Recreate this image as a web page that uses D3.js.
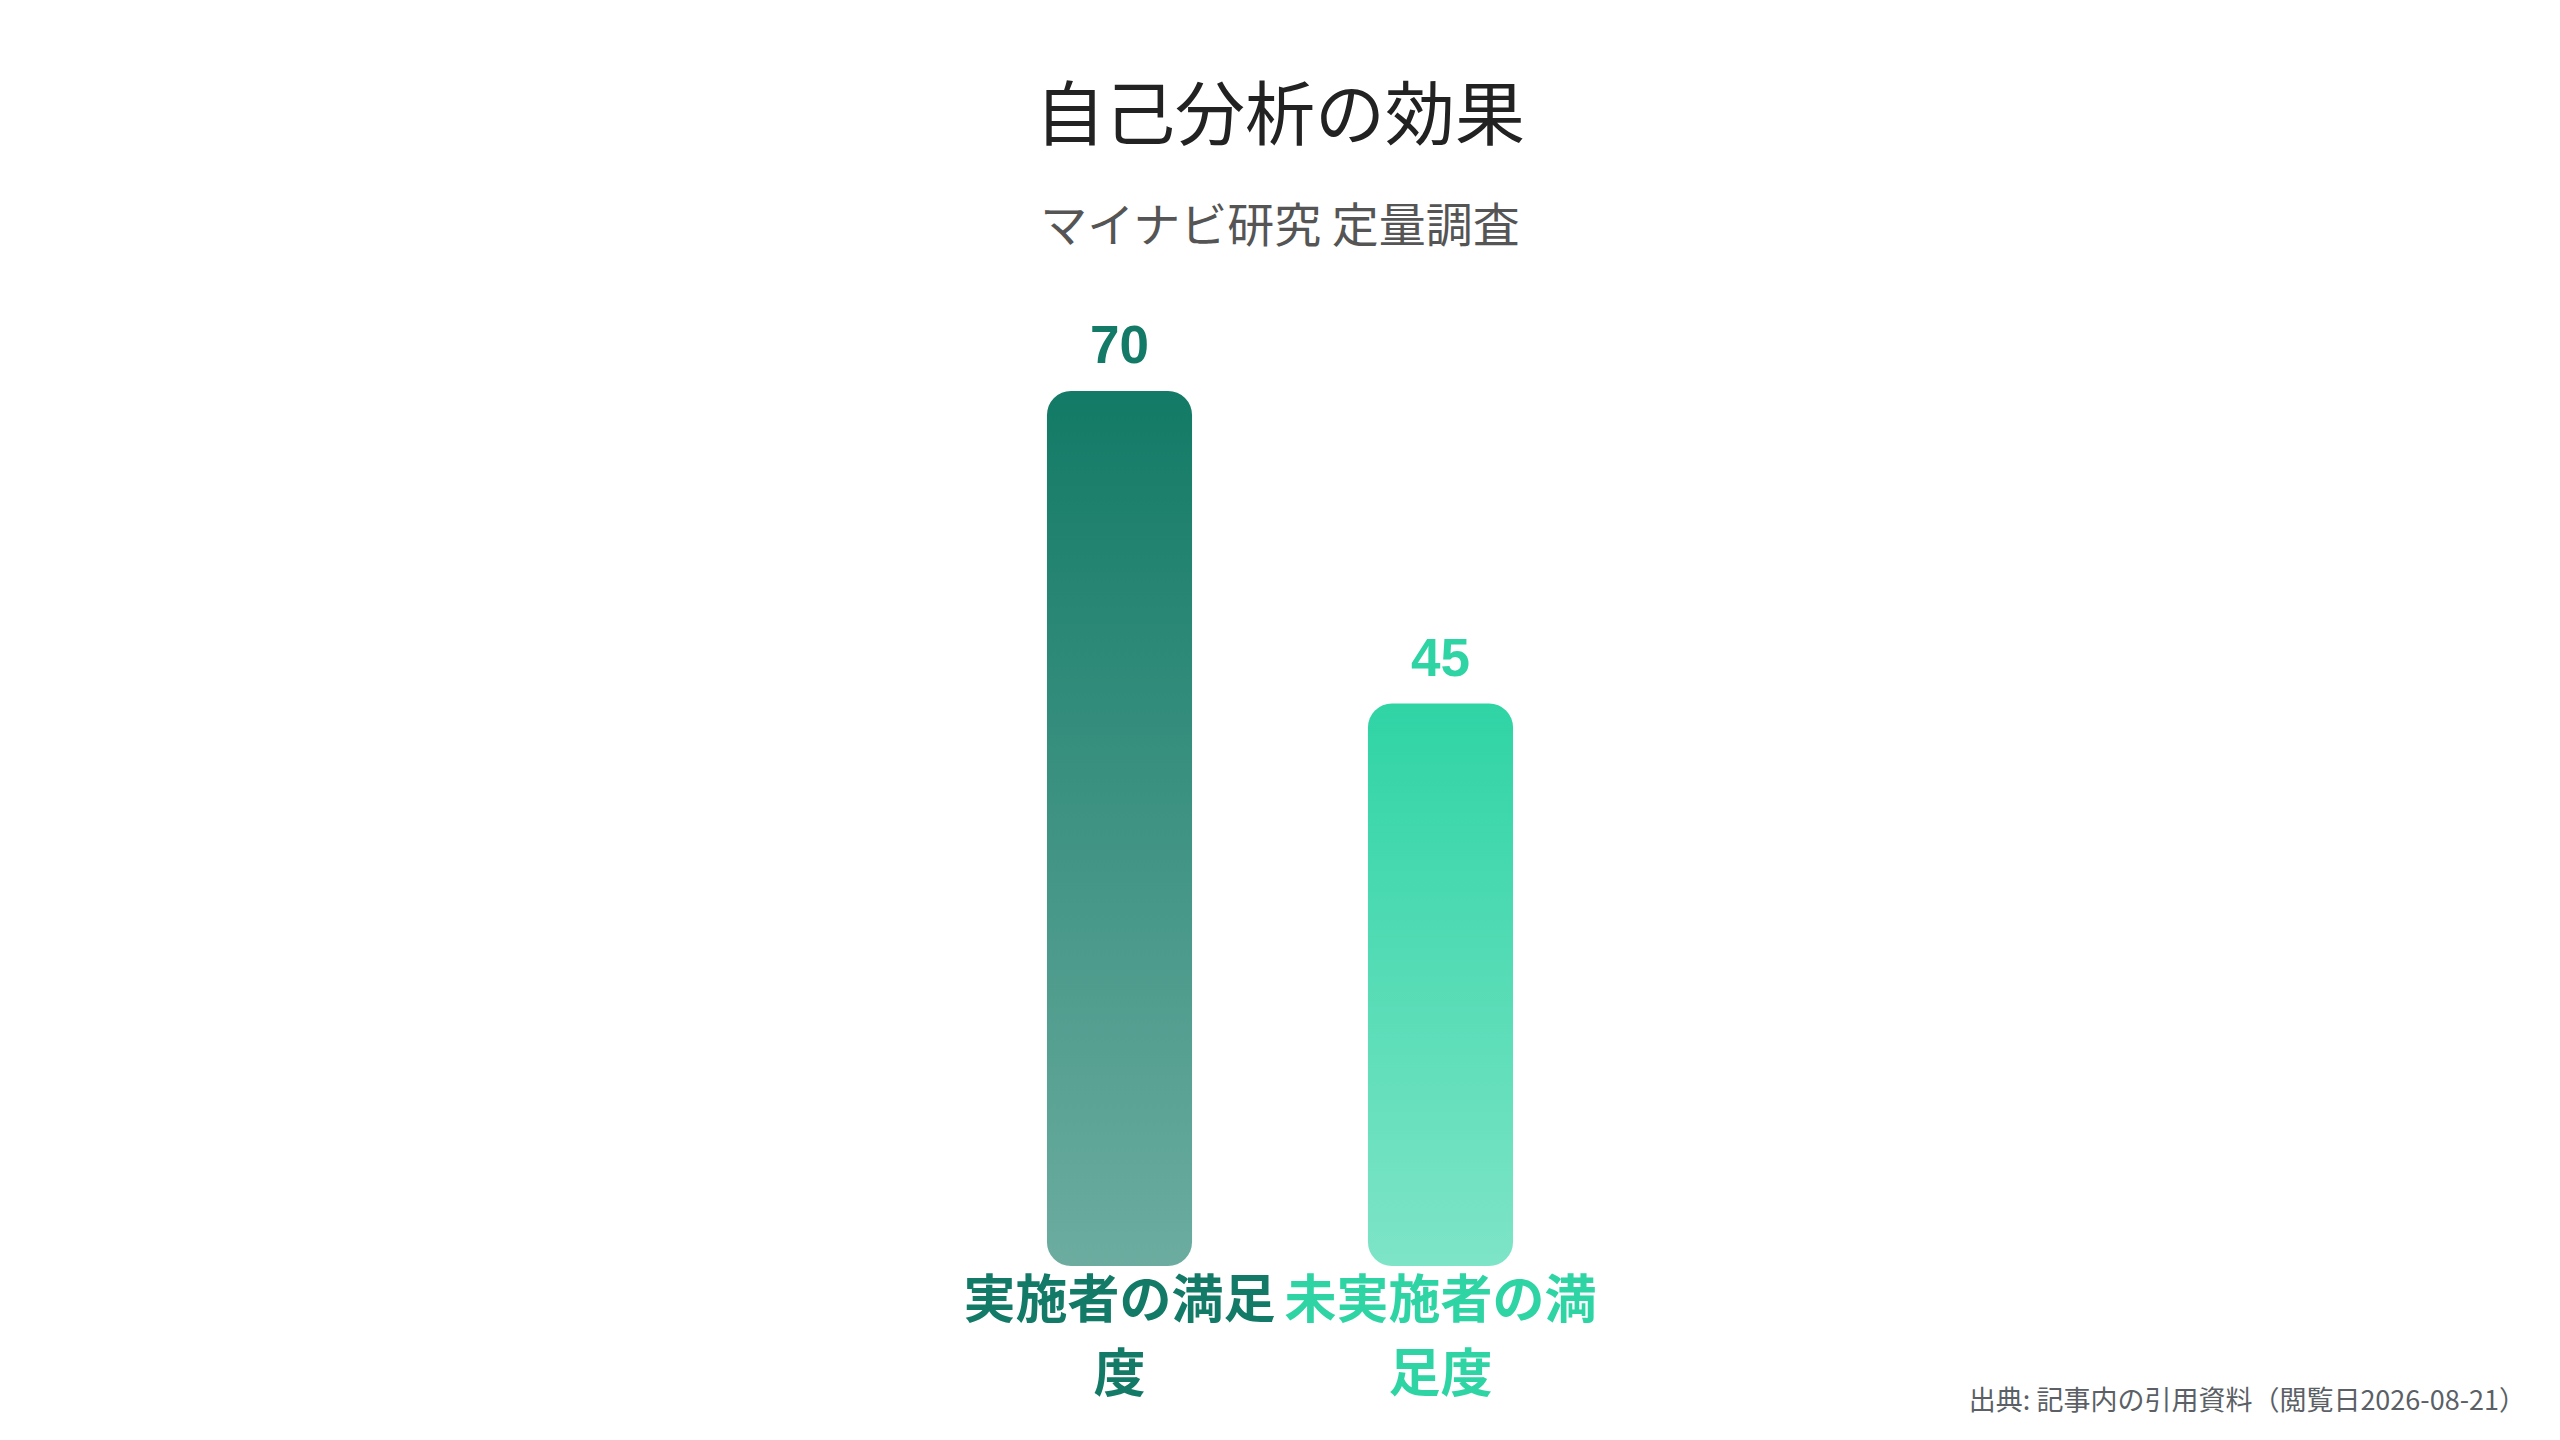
<!DOCTYPE html>
<html>
<head>
<meta charset="utf-8">
<script src="https://cdn.jsdelivr.net/npm/d3@7"></script>
<style>
  html, body { margin: 0; padding: 0; background: #ffffff; }
  text { font-family: "Noto Sans CJK JP", "Noto Sans", sans-serif; }
  .title { font-size: 70px; fill: #222222; }
  .subtitle { font-size: 47px; fill: #555555; }
  .value { font-family: "Liberation Sans", "Noto Sans CJK JP", sans-serif; font-size: 53px; font-weight: bold; }
  .catlabel { font-size: 52px; font-weight: bold; }
  .source { font-size: 27px; fill: #5b5f66; }
</style>
</head>
<body>
<svg class="chartsvg" width="2560" height="1440"></svg>
<script>
// data
var categories = ["実施者の満足度", "未実施者の満足度"];
var values = [70, 45];
var barColors = ["#127a66", "#2fd4a5"];

var titleText = "自己分析の効果";
var subtitleText = "マイナビ研究 定量調査";
var sourceText = "出典: 記事内の引用資料（閲覧日2026-08-21）";

var width = 2560, height = 1440;
var plot = {top: 391, bottom: 1266, cx: 1280, step: 321};

var svg = d3.select(".chartsvg");

var x = d3.scaleBand()
    .domain(categories)
    .range([plot.cx - plot.step, plot.cx + plot.step])
    .paddingInner(0.548)
    .paddingOuter(0.274);

var y = d3.scaleLinear()
    .domain([0, d3.max(values)])
    .range([plot.bottom, plot.top]);

// gradients, one per bar
var defs = svg.append("defs");
categories.forEach(function(c, i) {
    var g = defs.append("linearGradient")
        .attr("id", "grad" + i)
        .attr("x1", 0).attr("y1", 0)
        .attr("x2", 0).attr("y2", 1);
    g.append("stop").attr("offset", "0%")
        .attr("stop-color", barColors[i]).attr("stop-opacity", 1);
    g.append("stop").attr("offset", "100%")
        .attr("stop-color", barColors[i]).attr("stop-opacity", 0.62);
});

// title
svg.append("text")
    .attr("class", "title")
    .attr("x", width / 2)
    .attr("y", 140)
    .style("text-anchor", "middle")
    .text(titleText);

svg.append("text")
    .attr("class", "subtitle")
    .attr("x", width / 2)
    .attr("y", 242)
    .style("text-anchor", "middle")
    .text(subtitleText);

// bars
var bars = svg.append("g").attr("class", "bars");

bars.selectAll("rect")
    .data(values)
    .enter().append("rect")
    .attr("x", function(d, i) { return x(categories[i]); })
    .attr("y", function(d) { return y(d); })
    .attr("width", x.bandwidth())
    .attr("height", function(d) { return y(0) - y(d); })
    .attr("rx", 24)
    .attr("ry", 24)
    .attr("fill", function(d, i) { return "url(#grad" + i + ")"; });

bars.selectAll("text.value")
    .data(values)
    .enter().append("text")
    .attr("class", "value")
    .attr("x", function(d, i) { return x(categories[i]) + x.bandwidth() / 2; })
    .attr("y", function(d) { return y(d) - 28; })
    .style("text-anchor", "middle")
    .style("fill", function(d, i) { return barColors[i]; })
    .text(function(d) { return d; });

// category labels, wrapped to the band step
var labels = svg.append("g").attr("class", "labels");

categories.forEach(function(c, i) {
    var t = labels.append("text")
        .attr("class", "catlabel")
        .attr("x", x(c) + x.bandwidth() / 2)
        .attr("y", plot.bottom + 52)
        .style("text-anchor", "middle")
        .style("fill", barColors[i]);
    wrap(t, c, x.step() - 4, 74);
});

function wrap(textSel, str, maxw, lineh)
{
    var chars = str.split("");
    var line = "";
    var cx = textSel.attr("x");
    var tspan = textSel.append("tspan").attr("x", cx).attr("dy", 0);
    chars.forEach(function(ch) {
        tspan.text(line + ch);
        if (tspan.node().getComputedTextLength() > maxw && line.length > 0) {
            tspan.text(line);
            line = ch;
            tspan = textSel.append("tspan").attr("x", cx).attr("dy", lineh).text(ch);
        } else {
            line = line + ch;
        }
    });
}

// source note
svg.append("text")
    .attr("class", "source")
    .attr("x", 2526)
    .attr("y", 1410)
    .style("text-anchor", "end")
    .text(sourceText);
</script>
</body>
</html>
